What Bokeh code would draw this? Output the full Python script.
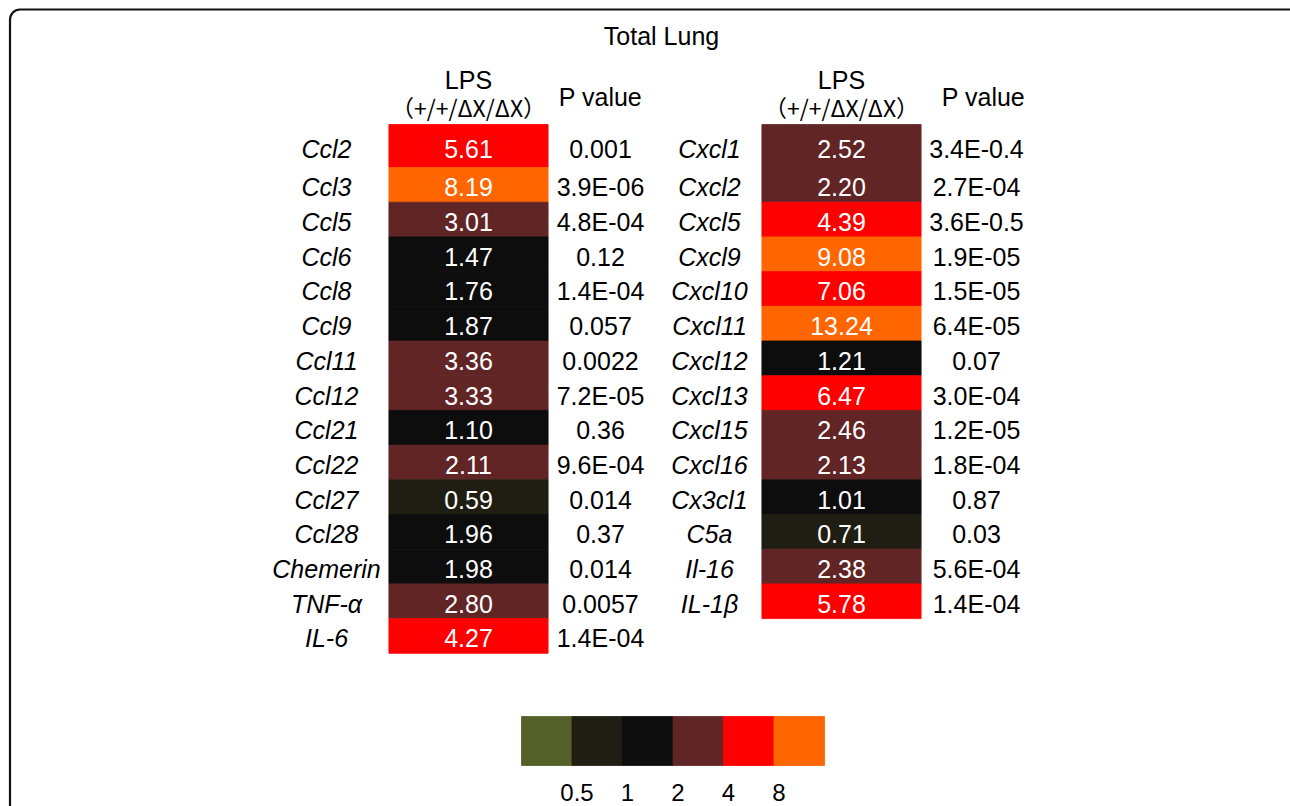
import numpy as np
from bokeh.plotting import figure
from bokeh.models import Range1d, BoxAnnotation, ColumnDataSource
from bokeh.core.properties import value
from bokeh.embed import file_html
from bokeh.resources import INLINE

# ---------------- data ----------------
title = "Total Lung"
header_top = "LPS"
header_bottom = "（+/+/ΔX/ΔX）"
header_p = "P value"

left_genes = ["Ccl2", "Ccl3", "Ccl5", "Ccl6", "Ccl8", "Ccl9", "Ccl11", "Ccl12",
              "Ccl21", "Ccl22", "Ccl27", "Ccl28", "Chemerin", "TNF-α", "IL-6"]
left_values = [5.61, 8.19, 3.01, 1.47, 1.76, 1.87, 3.36, 3.33,
               1.10, 2.11, 0.59, 1.96, 1.98, 2.80, 4.27]
left_pvalues = ["0.001", "3.9E-06", "4.8E-04", "0.12", "1.4E-04", "0.057", "0.0022", "7.2E-05",
                "0.36", "9.6E-04", "0.014", "0.37", "0.014", "0.0057", "1.4E-04"]

right_genes = ["Cxcl1", "Cxcl2", "Cxcl5", "Cxcl9", "Cxcl10", "Cxcl11", "Cxcl12", "Cxcl13",
               "Cxcl15", "Cxcl16", "Cx3cl1", "C5a", "Il-16", "IL-1β"]
right_values = [2.52, 2.20, 4.39, 9.08, 7.06, 13.24, 1.21, 6.47,
                2.46, 2.13, 1.01, 0.71, 2.38, 5.78]
right_pvalues = ["3.4E-0.4", "2.7E-04", "3.6E-0.5", "1.9E-05", "1.5E-05", "6.4E-05", "0.07", "3.0E-04",
                 "1.2E-05", "1.8E-04", "0.87", "0.03", "5.6E-04", "1.4E-04"]

legend_thresholds = [0.5, 1, 2, 4, 8]
legend_labels = ["0.5", "1", "2", "4", "8"]

# ---------------- style ----------------
palette = ["#536129", "#201E12", "#0D0D0D", "#622526", "#FF0000", "#FF6600"]
FONT = "Liberation Sans"
FS = "25px"

def color_of(v):
    return palette[int(np.digitize(v, legend_thresholds))]

W, H = 1290, 806
p = figure(width=W, height=H, output_backend="svg", toolbar_location=None,
           x_range=Range1d(0, W), y_range=Range1d(H, 0),
           min_border=0, outline_line_color=None, background_fill_color="white")
p.axis.visible = False
p.xgrid.visible = False
p.ygrid.visible = False

# frame (rounded, extends beyond right/bottom)
p.add_layout(BoxAnnotation(left=9.5, right=1300, top=9, bottom=900,
                           fill_alpha=0, line_color="#111111", line_alpha=1.0, line_width=2.2,
                           border_radius=10))

def row_top(i):
    return 124 if i == 0 else 167 + (i - 1) * 34.7

def row_bottom(i):
    return 167 + i * 34.7

def draw_table(genes, vals, pvals, gx, cl, cr, px):
    n = len(genes)
    tops = [row_top(i) for i in range(n)]
    bots = [row_bottom(i) for i in range(n)]
    cy = [(t + b) / 2 + 2.5 for t, b in zip(tops, bots)]
    src = ColumnDataSource(dict(top=tops, bottom=bots, color=[color_of(v) for v in vals],
                                genes=genes, vals=["%.2f" % v for v in vals], pv=pvals, cy=cy))
    p.quad(left=cl + 0.4, right=cr - 0.4, top="top", bottom="bottom", fill_color="color",
           line_color="color", line_width=0.8, source=src)
    p.text(x=gx, y="cy", text="genes", source=src, text_font=value(FONT),
           text_font_size=FS, text_font_style="italic", text_align="center",
           text_baseline="middle", text_color="black")
    p.text(x=(cl + cr) / 2, y="cy", text="vals", source=src, text_font=value(FONT),
           text_font_size=FS, text_align="center", text_baseline="middle", text_color="white")
    p.text(x=px, y="cy", text="pv", source=src, text_font=value(FONT),
           text_font_size=FS, text_align="center", text_baseline="middle", text_color="black")
    # headers
    p.text(x=[(cl + cr) / 2], y=[79], text=[header_top], text_font=value(FONT),
           text_font_size=FS, text_align="center", text_baseline="middle")
    p.text(x=[(cl + cr) / 2], y=[106], text=[header_bottom], text_font=value("Noto Sans CJK SC"),
           text_font_size="23px", text_align="center", text_baseline="middle")

draw_table(left_genes, left_values, left_pvalues, 326, 388, 548, 600)
draw_table(right_genes, right_values, right_pvalues, 709, 761, 921, 976)
p.text(x=[600, 983], y=[96, 96], text=[header_p, header_p], text_font=value(FONT),
       text_font_size=FS, text_align="center", text_baseline="middle")

# title
p.text(x=[661], y=[35], text=[title], text_font=value(FONT), text_font_size=FS,
       text_align="center", text_baseline="middle")

# legend color bar
nb = len(palette)
lx0, bw = 521, 50.5
lefts = [lx0 + i * bw for i in range(nb)]
p.quad(left=lefts, right=[l + bw for l in lefts], top=716, bottom=765,
       fill_color=palette, line_color=palette, line_width=0.8)
label_x = [lx0 + (i + 1) * bw + 5 for i in range(len(legend_labels))]
p.text(x=label_x, y=[792] * len(legend_labels), text=legend_labels, text_font=value(FONT),
       text_font_size="24px", text_align="center", text_baseline="middle")

open("out.html", "w").write(file_html(p, INLINE))
